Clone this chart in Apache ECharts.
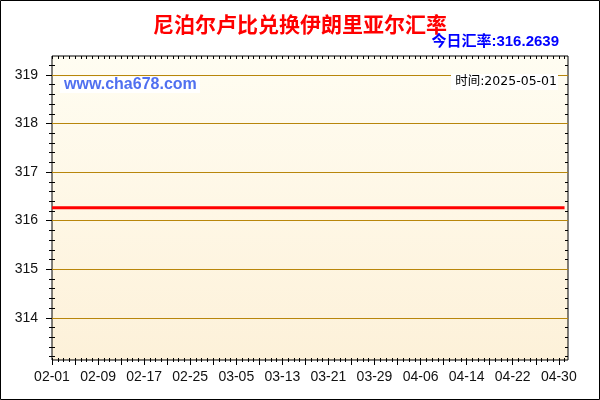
<!DOCTYPE html>
<html>
<head>
<meta charset="utf-8">
<script src="https://cdn.jsdelivr.net/npm/echarts@6/dist/echarts.min.js"></script>
<style>
html,body{margin:0;padding:0;background:#fff;}
#chart{width:600px;height:400px;}
</style>
</head>
<body>
<div id="chart"></div>
<script>
// 日期从 2025-02-01 起, 每天一个点, 到 05-01
var startYear = 2025, startMonth = 2, startDay = 1, dayCount = 90;
var xLabels = ['02-01','02-09','02-17','02-25','03-05','03-13','03-21','03-29','04-06','04-14','04-22','04-30'];
var yLabels = [314, 315, 316, 317, 318, 319];
var rates = [
    316.2639,316.2639,316.2639,316.2639,316.2639,316.2639,316.2639,316.2639,316.2639,316.2639,
    316.2639,316.2639,316.2639,316.2639,316.2639,316.2639,316.2639,316.2639,316.2639,316.2639,
    316.2639,316.2639,316.2639,316.2639,316.2639,316.2639,316.2639,316.2639,316.2639,316.2639,
    316.2639,316.2639,316.2639,316.2639,316.2639,316.2639,316.2639,316.2639,316.2639,316.2639,
    316.2639,316.2639,316.2639,316.2639,316.2639,316.2639,316.2639,316.2639,316.2639,316.2639,
    316.2639,316.2639,316.2639,316.2639,316.2639,316.2639,316.2639,316.2639,316.2639,316.2639,
    316.2639,316.2639,316.2639,316.2639,316.2639,316.2639,316.2639,316.2639,316.2639,316.2639,
    316.2639,316.2639,316.2639,316.2639,316.2639,316.2639,316.2639,316.2639,316.2639,316.2639,
    316.2639,316.2639,316.2639,316.2639,316.2639,316.2639,316.2639,316.2639,316.2639,316.2639
];
var titleText = '尼泊尔卢比兑换伊朗里亚尔汇率';
var todayRate = '316.2639';
var updateTime = '2025-05-01';

window.onload = function(){
    setChart();
}

function pad(n){ return n < 10 ? '0' + n : '' + n; }

function setChart(){
    var dates = [];
    for (var i = 0; i < dayCount; i++) {
        var d = new Date(startYear, startMonth - 1, startDay + i);
        dates.push(pad(d.getMonth() + 1) + '-' + pad(d.getDate()));
    }
    var xMin = 0, xMax = 89.6;
    var yMin = 313.13, yMax = 319.39;

    //刻度位置
    var labelIdx = xLabels.map(function(s){ return dates.indexOf(s); });
    var dayIdx = [], majorIdx = [];
    for (var k = 0; k < dayCount; k++) {
        dayIdx.push(k);
        if (k % 4 == 0) majorIdx.push(k);
    }
    var yMinor = [];
    for (var m = Math.ceil(yMin * 5); m <= Math.floor(yMax * 5); m++) yMinor.push(m / 5);

    function xAx(pos, ticks, len, inside){
        return {
            type: 'value', min: xMin, max: xMax, position: pos,
            axisLine: {show: false}, splitLine: {show: false},
            axisLabel: {show: false},
            axisTick: {show: true, inside: inside, length: len, customValues: ticks,
                lineStyle: {color: '#000', width: 1}}
        };
    }
    function yAx(pos, ticks, len, inside){
        return {
            type: 'value', min: yMin, max: yMax, position: pos,
            axisLine: {show: false}, splitLine: {show: false},
            axisLabel: {show: false},
            axisTick: {show: true, inside: inside, length: len, customValues: ticks,
                lineStyle: {color: '#000', width: 1}}
        };
    }

    var xMain = xAx('bottom', majorIdx, 5, false);
    xMain.axisLabel = {
        show: true, customValues: labelIdx, margin: 10,
        color: '#111', fontSize: 14, fontFamily: 'Liberation Sans, Arial',
        formatter: function(v){ return dates[v]; }
    };
    var yMain = yAx('left', yLabels, 6, false);
    yMain.axisLabel = {
        show: true, customValues: yLabels, margin: 14,
        color: '#111', fontSize: 14, fontFamily: 'Liberation Sans, Arial',
        formatter: function(v){ return String(v); }
    };

    var myChart = echarts.init(document.getElementById('chart'));
    var option = {
        animation: false,
        backgroundColor: '#fff',
        grid: {
            left: 52, right: 32, top: 56, bottom: 40,
            show: true, borderColor: '#000', borderWidth: 1,
            backgroundColor: {
                type: 'linear', x: 0, y: 0, x2: 0, y2: 1,
                colorStops: [{offset: 0, color: '#fffdf2'}, {offset: 1, color: '#fdf1d9'}]
            }
        },
        xAxis: [
            xMain,
            xAx('bottom', dayIdx, 2, false),
            xAx('bottom', dayIdx, 2, true),
            xAx('top', dayIdx, 3, true)
        ],
        yAxis: [
            yMain,
            yAx('left', yLabels, 4, true),
            yAx('left', yMinor, 3, false),
            yAx('left', yMinor, 3, true),
            yAx('right', yLabels, 5, true),
            yAx('right', yMinor, 3, true)
        ],
        series: [{
            type: 'line',
            xAxisIndex: 0, yAxisIndex: 0,
            data: rates.map(function(v, i){ return [i, v]; }),
            symbol: 'none',
            lineStyle: {color: '#ff0000', width: 3},
            itemStyle: {color: '#ff0000'},
            markLine: {
                silent: true, symbol: 'none', label: {show: false},
                lineStyle: {color: '#b8860b', width: 1, type: 'solid'},
                data: yLabels.map(function(v){ return {yAxis: v}; })
            },
            z: 5
        }],
        graphic: [
            {type: 'rect', z: 200, shape: {x: 0.5, y: 0.5, width: 599, height: 399},
                style: {fill: 'none', stroke: '#000', lineWidth: 1}},
            {type: 'text', z: 200, x: 300, y: 24,
                style: {text: titleText, fill: '#ff0000', align: 'center', verticalAlign: 'middle',
                    font: 'bold 21px "Noto Sans CJK SC", sans-serif'}},
            {type: 'text', z: 200, x: 559, y: 42,
                style: {text: '今日汇率:' + todayRate, fill: '#0000ff', align: 'right', verticalAlign: 'middle',
                    font: 'bold 15px "Liberation Sans", "Noto Sans CJK SC", sans-serif'}},
            {type: 'rect', z: 200, shape: {x: 60, y: 77, width: 140, height: 16},
                style: {fill: '#fff'}},
            {type: 'text', z: 201, x: 64, y: 85,
                style: {text: 'www.cha678.com', fill: '#5070f0', align: 'left', verticalAlign: 'middle',
                    font: 'bold 16px "Liberation Sans", Arial, sans-serif'}},
            {type: 'rect', z: 200, shape: {x: 451, y: 74, width: 107, height: 16},
                style: {fill: '#fff'}},
            {type: 'text', z: 201, x: 557, y: 82,
                style: {text: '时间:' + updateTime, fill: '#000', align: 'right', verticalAlign: 'middle',
                    font: '12.5px "DejaVu Sans", "Noto Sans CJK SC", sans-serif'}}
        ]
    };
    myChart.setOption(option);
}
</script>
</body>
</html>
